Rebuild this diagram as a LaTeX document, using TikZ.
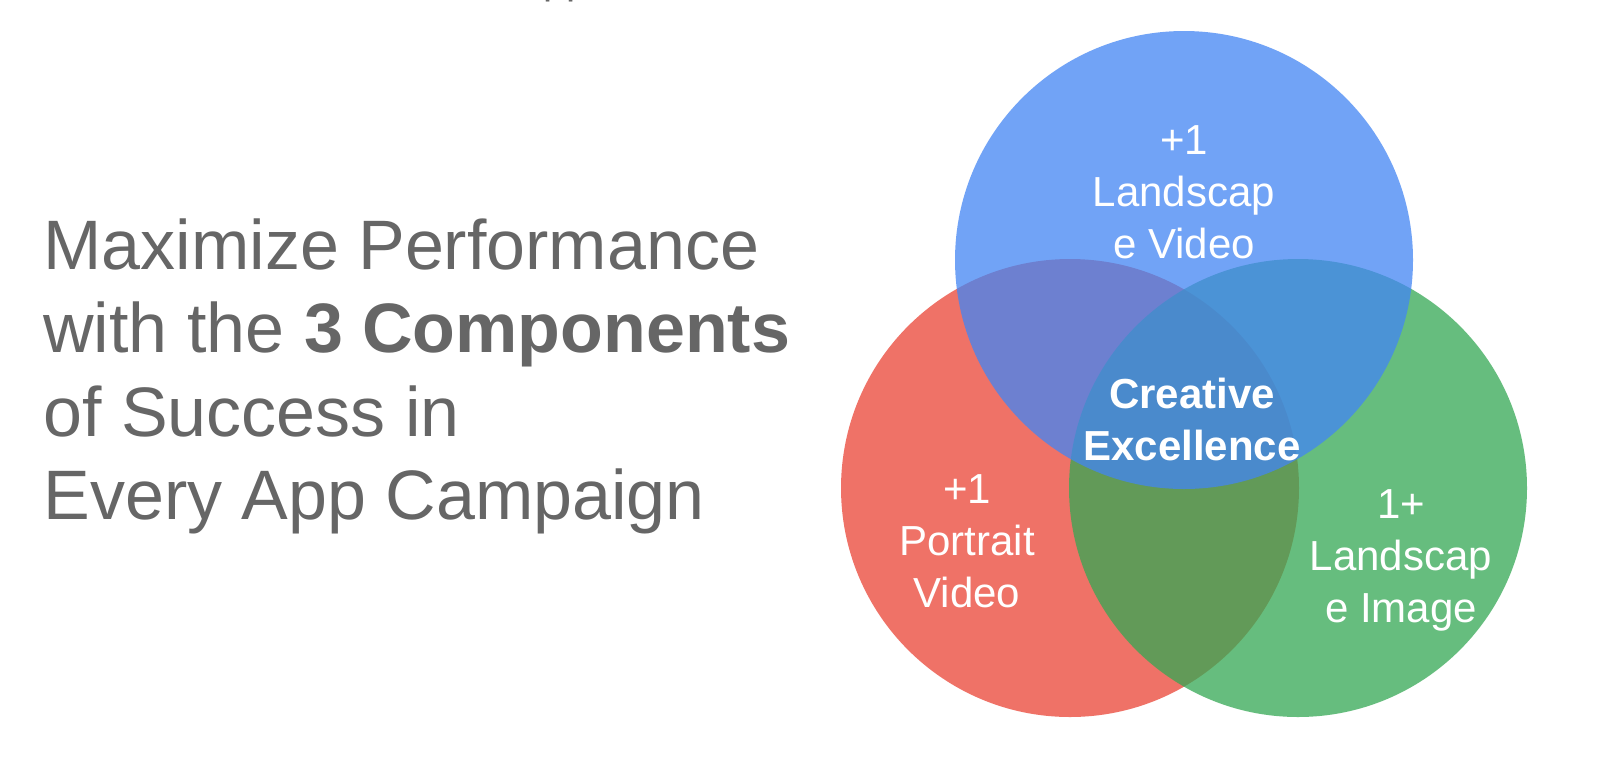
\documentclass[tikz,border=0pt]{standalone}
\usepackage{fontspec}
\setmainfont{Liberation Sans}
\definecolor{gred}{HTML}{EA4335}
\definecolor{ggreen}{HTML}{34A853}
\definecolor{gblue}{HTML}{4285F4}
\definecolor{titlegray}{HTML}{666666}
\tikzset{
  venn/.style={circle, draw=none, fill opacity=0.75, inner sep=0pt, minimum size=229pt},
  title/.style={anchor=base west, inner sep=0pt, text=titlegray, font=\fontsize{35pt}{42pt}\selectfont},
  lbl/.style={align=center, inner sep=0pt, text=white, font=\fontsize{21pt}{26pt}\selectfont},
  lblbold/.style={lbl, font=\fontsize{21pt}{26pt}\selectfont\bfseries}
}
\begin{document}
\begin{tikzpicture}[x=0.5pt,y=-0.5pt]
\useasboundingbox[fill=white] (0,0) rectangle (1600,762);
% cut-off text at the top edge
\node[anchor=base west, inner sep=0pt, text=titlegray, font=\fontsize{20.5pt}{24pt}\selectfont] (topcut) at (543,-6.5) {pp};
% title
\node[title] (t1) at (43,269) {Maximize Performance};
\node[title] (t2) at (43,352) {with the \textbf{3 Components}};
\node[title] (t3) at (43,436) {of Success in};
\node[title] (t4) at (43,519) {Every App Campaign};
% venn circles
\node[venn, fill=gred] (red) at (1070,488) {};
\node[venn, fill=ggreen] (green) at (1298,488) {};
\node[venn, fill=gblue] (blue) at (1184,260) {};
% labels
\node[lbl] (lblue) at (1184,192) {+1\\Landscap\\e Video};
\node[lbl] (lred) at (967,541) {+1\\Portrait\\Video};
\node[lbl] (lgreen) at (1401,560) {1+\\Landscap\\e Image};
\node[lblbold] (lcenter) at (1192,419) {Creative\\Excellence};
\end{tikzpicture}
\end{document}
